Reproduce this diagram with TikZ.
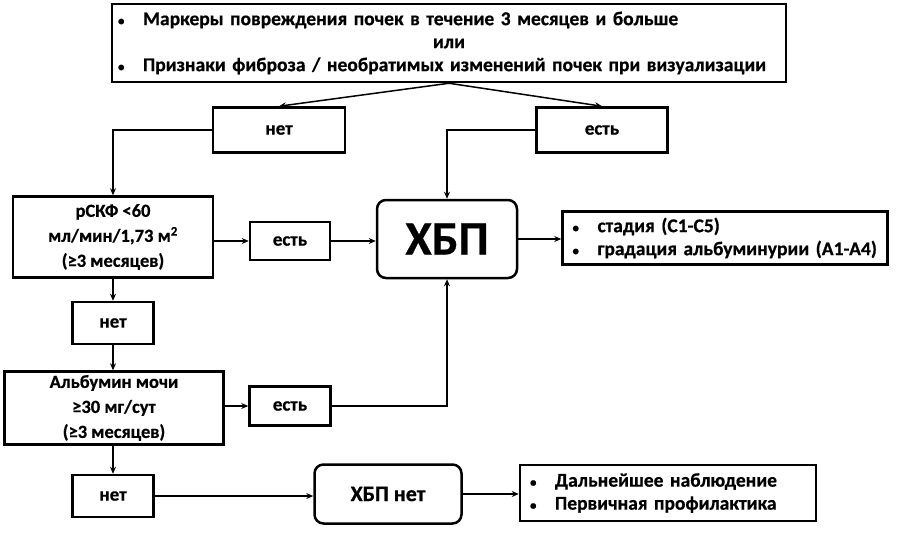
\documentclass[tikz,border=0pt]{standalone}
\usepackage{fontspec}
\setmainfont{Carlito}[BoldFeatures={FakeBold=0.6}]
\usetikzlibrary{arrows.meta}
\tikzset{
  box/.style={draw,line width=2.5pt,align=center,font=\fontsize{19}{23}\selectfont\bfseries},
  rbox/.style={box,rounded corners=9pt},
  arr/.style={line width=1.5pt,-{Stealth[length=7pt,width=6pt]}},
  big/.style={font=\fontsize{19.5}{23}\selectfont\bfseries},
  mid/.style={font=\fontsize{18.5}{25}\selectfont\bfseries}
}
\newcommand{\bul}{\makebox[25pt][l]{\fontsize{13}{13}\selectfont•}}
\begin{document}
\begin{tikzpicture}
      [x=1pt,y=-1pt]
      \useasboundingbox (0,0) rectangle (901,538);
      \node[box,big,minimum width=674,minimum height=78,text width=662,align=left] (top) at (449,43)
      {\bul Маркеры повреждения почек в течение 3 месяцев и больше\\
       \makebox[662pt]{или}\\
       \bul Признаки фиброза / необратимых изменений почек при визуализации};
      \node[box,minimum width=132,minimum height=45] (no1) at (279,130) {нет};
      \node[box,minimum width=131,minimum height=45] (yes1) at (602,130) {есть};
      \node[box,mid,minimum width=200,minimum height=81] (gfr) at (113,237)
      {рСКФ <60\\ мл/мин/1,73 м\textsuperscript{2}\\ (≥3 месяцев)};
      \node[box,minimum width=80,minimum height=38] (yes2) at (290,241) {есть};
      \node[rbox,minimum width=140,minimum height=78,font=\fontsize{48}{50}\selectfont\bfseries] (ckd) at (447,239) {ХБП};
      \node[box,big,minimum width=325,minimum height=53,text width=305,align=left] (stage) at (725,238)
      {\bul стадия (С1-С5)\\
       \bul градация альбуминурии (А1-А4)};
      \node[box,minimum width=81,minimum height=42] (no2) at (113,323) {нет};
      \node[box,mid,minimum width=219,minimum height=73] (alb) at (114,408)
      {Альбумин мочи\\ ≥30 мг/сут\\ (≥3 месяцев)};
      \node[box,minimum width=81,minimum height=39] (yes3) at (290,406) {есть};
      \node[box,minimum width=81,minimum height=42] (no3) at (113,496) {нет};
      \node[rbox,minimum width=147,minimum height=59,font=\fontsize{22}{24}\selectfont\bfseries] (nockd) at (388,494) {ХБП нет};
      \node[box,big,minimum width=296,minimum height=56,text width=276,align=left] (follow) at (668,493)
      {\bul Дальнейшее наблюдение\\
       \bul Первичная профилактика};
      % connectors
      \draw[arr] (top.south) -- (no1.north);
      \draw[arr] (top.south) -- (yes1.north);
      \draw[arr] (no1.west) -| (gfr.north);
      \draw[arr] (yes1.west) -| (ckd.north);
      \draw[arr] (gfr.east |- yes2.west) -- (yes2.west);
      \draw[arr] (yes2.east) -- (yes2.east -| ckd.west);
      \draw[arr] (ckd.east) -- (ckd.east -| stage.west);
      \draw[arr] (gfr.south) -- (no2.north);
      \draw[arr] (no2.south) -- (no2.south |- alb.north);
      \draw[arr] (alb.east |- yes3.west) -- (yes3.west);
      \draw[arr] (yes3.east) -| (ckd.south);
      \draw[arr] (alb.south -| no3.north) -- (no3.north);
      \draw[arr] (no3.east) -- (no3.east -| nockd.west);
      \draw[arr] (nockd.east) -- (nockd.east -| follow.west);
    \end{tikzpicture}
\end{document}
